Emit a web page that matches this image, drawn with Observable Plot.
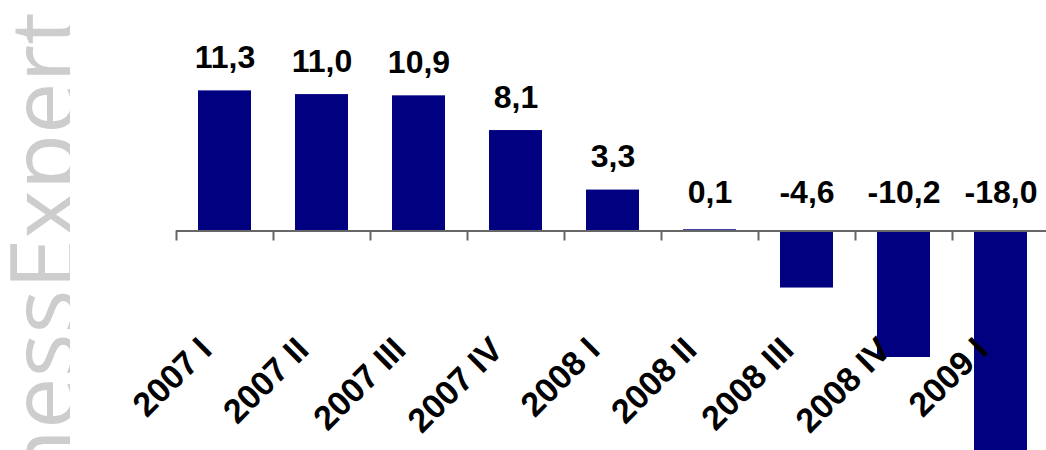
<!DOCTYPE html>
<html>
<head>
<meta charset="utf-8">
<script src="https://cdn.jsdelivr.net/npm/d3@7"></script>
<script src="https://cdn.jsdelivr.net/npm/@observablehq/plot@0.6"></script>
<style>
  body { margin: 0; overflow: hidden; background: white; }
  #wrap { position: relative; width: 1046px; height: 450px; }
  #mark { position: absolute; left: 0; top: 0; }
</style>
</head>
<body>
<div id="wrap">
  <div id="chart"></div>
  <svg id="mark" width="70" height="450">
    <text transform="translate(76,12) rotate(-90)" text-anchor="end"
      font-family="Open Sans" font-weight="400" font-size="92" fill="#cdcdcd">BusinessExpert</text>
  </svg>
</div>
<script>
const quarters = ["2007 I", "2007 II", "2007 III", "2007 IV", "2008 I", "2008 II", "2008 III", "2008 IV", "2009 I"];
const values = [11.3, 11.0, 10.9, 8.1, 3.3, 0.1, -4.6, -10.2, -18.0];

const data = quarters.map((q, i) => ({q, v: values[i]}));
const fmt = (v) => v.toFixed(1).replace(".", ",");

const width = 1046;
const marginLeft = 176;
const marginRight = -3; // last band runs a little past the edge
const step = (width - marginLeft - marginRight) / quarters.length;

const font = {fontFamily: "Liberation Sans, Arial, sans-serif", fontWeight: "bold", fill: "black"};

const chart = Plot.plot({
    width: width,
    height: 450,
    marginLeft: marginLeft,
    marginRight: marginRight,
    marginTop: 44.5,
    marginBottom: 21.1,
    x: {type: "band", domain: quarters, paddingInner: 0.455, paddingOuter: 0.2275, axis: null},
    y: {domain: [-16, 15], axis: null},
    marks: [
        Plot.barY(data, {x: "q", y: "v", fill: "#000080"}),
        Plot.ruleY([0], {stroke: "#666", strokeWidth: 2}),
        // little ticks at the left edge of each band
        Plot.ruleX(data, {x: "q", y1: () => 0, y2: () => 0, insetBottom: -10, dx: -step / 2, stroke: "#666", strokeWidth: 2}),
        Plot.text(data.filter((d) => d.v > 1), {x: "q", y: "v", text: (d) => fmt(d.v), dy: -33, fontSize: 32, ...font}),
        Plot.text(data.filter((d) => d.v <= 1), {x: "q", y: () => 0, text: (d) => fmt(d.v), dy: -38, fontSize: 32, ...font}),
        Plot.text(data, {x: "q", y: () => 0, text: "q", rotate: -45, textAnchor: "end", dx: -19, dy: 113, fontSize: 34, ...font}),
    ],
});
document.querySelector("#chart").append(chart);
</script>
</body>
</html>
